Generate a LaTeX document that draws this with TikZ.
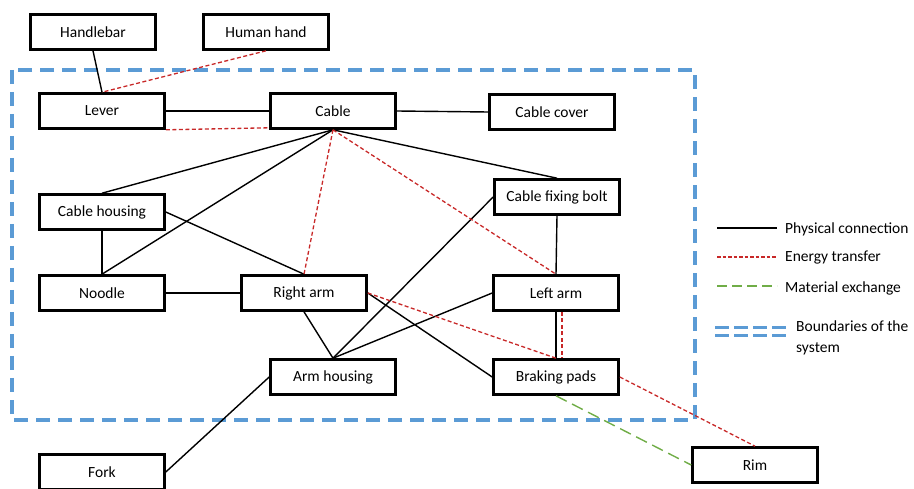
\documentclass[tikz,border=0pt]{standalone}
\usepackage{fontspec}
\setmainfont{Carlito}
\definecolor{bluebound}{RGB}{91,155,213}
\definecolor{redline}{RGB}{200,40,40}
\definecolor{greenline}{RGB}{112,173,71}
\begin{document}
\begin{tikzpicture}[x=1pt,y=-1pt,
  box/.style={draw=black,line width=2.6pt,minimum width=125pt,minimum height=35pt,inner sep=0pt,font=\fontsize{15.5}{18}\selectfont,fill=white},
  phys/.style={draw=black,line width=1.4pt},
  energy/.style={draw=redline,line width=1.3pt,dash pattern=on 4pt off 2.5pt},
  material/.style={draw=greenline,line width=1.4pt,dash pattern=on 12pt off 6pt},
  bound/.style={draw=bluebound,line width=3.8pt,dash pattern=on 14pt off 8pt},
  legtext/.style={anchor=west,font=\fontsize{15.5}{18}\selectfont,inner sep=0pt,align=left}
]
\useasboundingbox (0,0) rectangle (914,489);
% boundary
\draw[bound] (12,70) rectangle (695,420);
% nodes
\node[box] (handlebar) at (93,32) {Handlebar};
\node[box] (hand) at (266,32) {Human hand};
\node[box] (lever) at (102,111) {Lever};
\node[box] (cable) at (333,111) {Cable};
\node[box] (cover) at (552,112) {Cable cover};
\node[box] (housing) at (102,212) {Cable housing};
\node[box] (bolt) at (557,197) {Cable fixing bolt};
\node[box] (noodle) at (102,293) {Noodle};
\node[box] (rarm) at (304,293) {Right arm};
\node[box] (larm) at (556,293) {Left arm};
\node[box] (arm) at (333,377) {Arm housing};
\node[box] (pads) at (556,377) {Braking pads};
\node[box] (fork) at (102,472) {Fork};
\node[box] (rim) at (755,465) {Rim};
% physical connections
\draw[phys] (handlebar.south) -- (lever.north);
\draw[phys] (lever.east) -- (cable.west);
\draw[phys] (cable.east) -- (cover.west);
\draw[phys] (cable.south) -- (housing.north);
\draw[phys] (cable.south) -- (noodle.north);
\draw[phys] (cable.south) -- (bolt.north);
\draw[phys] (housing.south) -- (noodle.north);
\draw[phys] (housing.east) -- (rarm.north);
\draw[phys] (noodle.east) -- (rarm.west);
\draw[phys] (rarm.south) -- (arm.north);
\draw[phys] (rarm.east) -- (pads.west);
\draw[phys] (arm.north) -- (bolt.west);
\draw[phys] (arm.north) -- (larm.west);
\draw[phys] (bolt.south) -- (larm.north);
\draw[phys] (larm.south) -- (pads.north);
\draw[phys] (arm.west) -- (fork.east);
% energy transfer
\draw[energy] (hand.south) -- (lever.north);
\draw[energy] (lever.south east) -- ([yshift=2pt]cable.south west);
\draw[energy] (cable.south) -- (rarm.north);
\draw[energy] (cable.south) -- (larm.north);
\draw[energy] (rarm.east) -- (pads.north);
\draw[energy] ([xshift=6pt]larm.south) -- ([xshift=6pt]pads.north);
\draw[energy] (pads.east) -- (rim.north);
% material exchange
\draw[material] (pads.south) -- (rim.west);
% legend
\coordinate (l1a) at (717,228); \coordinate (l1b) at (777,228);
\coordinate (l2a) at (717,257); \coordinate (l2b) at (777,257);
\coordinate (l3a) at (717,286); \coordinate (l3b) at (777,286);
\coordinate (l4a) at (715,328); \coordinate (l4b) at (787,328);
\coordinate (l5a) at (715,336); \coordinate (l5b) at (787,336);
\draw[phys] (l1a) -- (l1b);
\draw[energy,line width=1.1pt,dash pattern=on 3.5pt off 2pt] (l2a) -- (l2b);
\draw[material,line width=1.2pt,dash pattern=on 10pt off 5pt] (l3a) -- (l3b);
\draw[draw=bluebound,line width=3pt,dash pattern=on 14pt off 5pt] (l4a) -- (l4b);
\draw[draw=bluebound,line width=3pt,dash pattern=on 14pt off 5pt] (l5a) -- (l5b);
\node[legtext] (t1) at (785,229) {Physical connection};
\node[legtext] (t2) at (785,258) {Energy transfer};
\node[legtext] (t3) at (785,288) {Material exchange};
\node[legtext,anchor=north west] (t4) at (796,321) {Boundaries of the\\[3pt]system};
\end{tikzpicture}
\end{document}
